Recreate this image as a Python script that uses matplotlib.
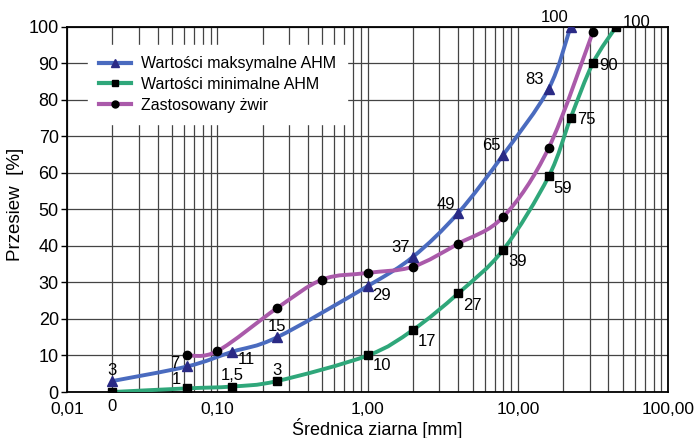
import numpy as np
import matplotlib
matplotlib.use("Agg")
import matplotlib.pyplot as plt
from matplotlib.path import Path
from matplotlib.patches import PathPatch
from matplotlib.lines import Line2D

plt.rcParams['font.family'] = ['Liberation Sans', 'DejaVu Sans']

# ==================== dane ====================
max_x = [0.02, 0.063, 0.125, 0.25, 1, 2, 4, 8, 16, 22.4]
max_y = [3, 7, 11, 15, 29, 37, 49, 65, 83, 100]
max_lbl = ["3", "7", "11", "15", "29", "37", "49", "65", "83", "100"]

min_x = [0.02, 0.063, 0.125, 0.25, 1, 2, 4, 8, 16, 22.4, 31.5, 45]
min_y = [0, 1, 1.5, 3, 10, 17, 27, 39, 59, 75, 90, 100]
min_lbl = ["0", "1", "1,5", "3", "10", "17", "27", "39", "59", "75", "90", "100"]

zw_x = [0.063, 0.1, 0.25, 0.5, 1, 2, 4, 8, 16, 31.5]
zw_y = [10, 11.2, 23, 30.8, 32.6, 34.3, 40.6, 48, 66.8, 98.5]

x_ticks = [0.01, 0.1, 1, 10, 100]
x_tick_lbl = ["0,01", "0,10", "1,00", "10,00", "100,00"]

# offsety etykiet (px) dla punktow
max_off = [(0, 11), (-12, 3), (14, -8), (0, 11), (14, -9), (-12, 9), (-12, 9), (-12, 9), (-14, 9), (-16, 9)]
min_off = [(0, -14), (-11, 9), (0, 11), (0, 11), (14, -10), (14, -12), (14, -12), (14, -12), (14, -12), (16, -1), (16, -2), (20, 4)]

COL_MAX = "#4a6bbf"
COL_MIN = "#2fa77a"
COL_ZW = "#aa5aaa"


def smooth_path(xs, ys):
    # krzywa jak w Excelu (Catmull-Rom -> Bezier) w przestrzeni log(x)
    lx = np.log10(xs)
    y = np.array(ys, dtype=float)
    n = len(lx)
    verts = [(xs[0], y[0])]
    codes = [Path.MOVETO]
    for i in range(n - 1):
        p0 = (lx[max(i - 1, 0)], y[max(i - 1, 0)])
        p1 = (lx[i], y[i])
        p2 = (lx[i + 1], y[i + 1])
        p3 = (lx[min(i + 2, n - 1)], y[min(i + 2, n - 1)])
        c1 = (p1[0] + (p2[0] - p0[0]) / 6, p1[1] + (p2[1] - p0[1]) / 6)
        c2 = (p2[0] - (p3[0] - p1[0]) / 6, p2[1] - (p3[1] - p1[1]) / 6)
        verts += [(10 ** c1[0], c1[1]), (10 ** c2[0], c2[1]), (10 ** p2[0], p2[1])]
        codes += [Path.CURVE4] * 3
    return Path(verts, codes)


fig = plt.figure(figsize=(6.99, 4.38), dpi=100)
ax = fig.add_axes([0.096, 0.105, 0.860, 0.834])
ax.set_xscale("log")
ax.set_xlim(0.01, 100)
ax.set_ylim(0, 100)

ax.grid(True, which="both", axis="x", color="#444444", linewidth=0.9)
ax.grid(True, which="major", axis="y", color="#444444", linewidth=0.9)
ax.set_axisbelow(True)

for xs, ys, col in [(max_x, max_y, COL_MAX), (min_x, min_y, COL_MIN), (zw_x, zw_y, COL_ZW)]:
    ax.add_patch(PathPatch(smooth_path(xs, ys), facecolor="none", edgecolor=col, lw=2.8, zorder=3))

ax.plot(max_x, max_y, ls="none", marker="^", ms=7, color="#2a2a85", zorder=4)
ax.plot(min_x, min_y, ls="none", marker="s", ms=6, color="black", zorder=4)
ax.plot(zw_x, zw_y, ls="none", marker="o", ms=6, color="black", zorder=4)

for xv, yv, t, off in zip(max_x, max_y, max_lbl, max_off):
    ax.annotate(t, (xv, yv), xytext=(off[0] * 0.72, off[1] * 0.72), textcoords="offset points",
                ha="center", va="center", fontsize=12, zorder=5, annotation_clip=False)
for xv, yv, t, off in zip(min_x, min_y, min_lbl, min_off):
    ax.annotate(t, (xv, yv), xytext=(off[0] * 0.72, off[1] * 0.72), textcoords="offset points",
                ha="center", va="center", fontsize=12, zorder=5, annotation_clip=False)

ax.set_xticks(x_ticks)
ax.set_xticklabels(x_tick_lbl)
ax.set_yticks(range(0, 101, 10))
ax.tick_params(axis="both", which="major", labelsize=13, direction="out", length=4, width=1, pad=2)
ax.tick_params(axis="x", which="major", length=0, pad=7.5, labelsize=12.5)
ax.tick_params(axis="x", which="minor", length=0)
for s in ax.spines.values():
    s.set_linewidth(1.3)
    s.set_color("black")

ax.set_xlabel("Średnica ziarna [mm]", fontsize=13, va="baseline")
ax.xaxis.set_label_coords(0.516, -0.119)
ax.set_ylabel("Przesiew  [%]", fontsize=13.5)
ax.yaxis.set_label_coords(-0.071, 0.515)

handles = [
    Line2D([], [], color=COL_MAX, lw=3, marker="^", ms=6, mfc="#2a2a85", mec="#2a2a85"),
    Line2D([], [], color=COL_MIN, lw=3, marker="s", ms=5, mfc="black", mec="black"),
    Line2D([], [], color=COL_ZW, lw=3, marker="o", ms=5, mfc="black", mec="black"),
]
leg = ax.legend(handles, ["Wartości maksymalne AHM", "Wartości minimalne AHM", "Zastosowany żwir"],
                loc="upper left", bbox_to_anchor=(88 / 699, 1 - 45 / 438), bbox_transform=fig.transFigure,
                borderaxespad=0, fontsize=11.5, frameon=True,
                fancybox=False, edgecolor="white", framealpha=1, handlelength=2.0,
                handletextpad=0.62, labelspacing=0.36, borderpad=0.7)

fig.savefig("out.png", dpi=100)
